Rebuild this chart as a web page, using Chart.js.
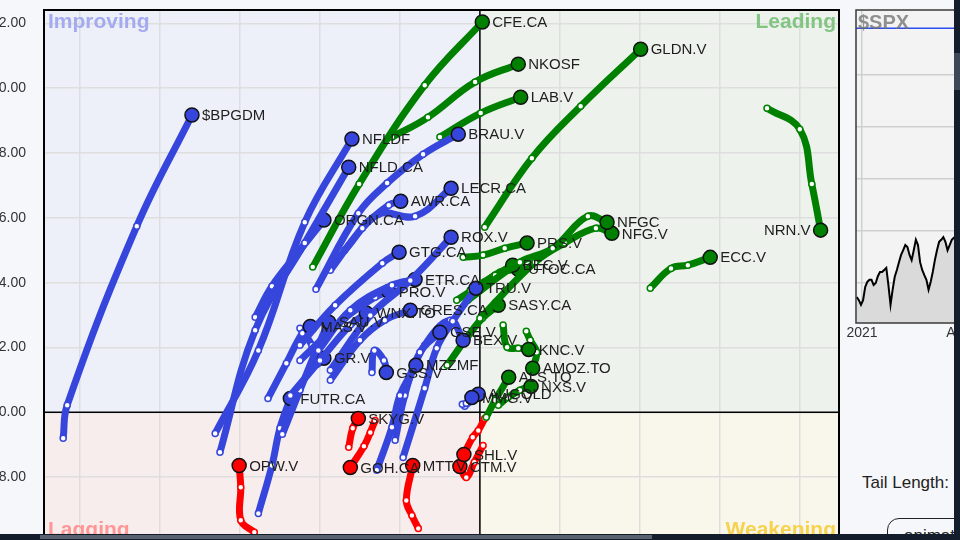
<!DOCTYPE html>
<html>
<head>
<meta charset="utf-8">
<script src="https://cdn.jsdelivr.net/npm/chart.js@4.4.0/dist/chart.umd.min.js"></script>
<style>
  html, body { margin: 0; padding: 0; width: 960px; height: 540px; overflow: hidden; background: #f6f7fa; font-family: "Liberation Sans", Arial, sans-serif; }
  #rrgBox { position: absolute; left: -40px; top: 0; }
  #spxBox { position: absolute; left: 836px; top: 0; }
  #tailLabel { position: absolute; left: 862px; top: 473px; font-size: 17px; color: #222; white-space: nowrap; }
  #animBtn { position: absolute; left: 887px; top: 518px; width: 130px; height: 34px; border: 1.5px solid #222; border-radius: 12px; font-size: 17px; line-height: 34px; padding-left: 16px; color: #222; box-sizing: border-box; }
  #vScroll { position: absolute; left: 954px; top: 0; width: 6px; height: 540px; background: #141d2b; }
  #vThumb { position: absolute; left: 0; top: 53px; width: 6px; height: 37px; background: #3d4757; }
  #hScroll { position: absolute; left: 0; top: 534px; width: 954px; height: 6px; background: #141d2b; }
  #hThumb { position: absolute; left: 40px; top: 1px; width: 612px; height: 4px; background: #58626e; }
</style>
</head>
<body>
<div id="rrgBox"><canvas id="rrg" width="881" height="560"></canvas></div>
<div id="spxBox"><canvas id="spx" width="290" height="345"></canvas></div>
<div id="tailLabel">Tail Length:</div>
<div id="animBtn">animate</div>
<div id="hScroll"><div id="hThumb"></div></div>
<div id="vScroll"><div id="vThumb"></div></div>

<script>
// RRG tails, oldest point first, head (current) point last
const tickers = [
    '$BPGDM', 'NFLDF', 'NFLD.CA', 'ORGN.CA', 'BRAU.V', 'AWR.CA', 'LECR.CA', 'ROX.V', 'GTG.CA', 'ETR.CA',
    'PRO.V', 'GRES.CA', 'WNX.TO', 'MAS.V', 'SAU.V', 'GR.V', 'GSS.V', 'MZZMF', 'FUTR.CA', 'GSE.V',
    'TRU.V', 'BEX.V', 'MMG.V', 'AUGOLD',
    'CFE.CA', 'NKOSF', 'LAB.V', 'GLDN.V', 'NRN.V', 'NFGC', 'NFG.V', 'PRS.V', 'BEC.V', 'UTOC.CA',
    'ECC.V', 'SASY.CA', 'KNC.V', 'AMOZ.TO', 'ALS.TO', 'NXS.V',
    'OPW.V', 'SKYG.V', 'GOH.CA', 'MTT.V', 'SHL.V', 'CTM.V'
];

const tailX = [
    [94.79, 94.84, 95.71, 96.40],
    [96.69, 97.23, 97.81, 98.40],
    [96.75, 97.19, 97.81, 98.36],
    [97.19, 97.40, 97.75, 98.05],
    [97.95, 98.48, 98.84, 99.29, 99.73],
    [98.13, 98.53, 98.86, 99.01],
    [98.31, 98.73, 99.19, 99.64],
    [98.13, 98.63, 99.13, 99.64],
    [97.75, 98.19, 98.78, 98.99],
    [97.98, 98.38, 98.90, 99.19],
    [97.75, 98.31, 98.69, 98.86],
    [98.13, 98.50, 98.81, 99.13],
    [97.63, 98.00, 98.38, 98.58],
    [97.35, 97.58, 97.78, 97.88],
    [97.53, 97.75, 97.98, 98.11],
    [97.75, 97.90, 97.95, 98.05],
    [98.65, 98.68, 98.80, 98.83],
    [98.71, 98.90, 99.00, 99.20],
    [97.23, 97.40, 97.50, 97.63],
    [98.94, 99.06, 99.25, 99.50],
    [99.04, 99.31, 99.46, 99.66, 99.95],
    [99.06, 99.31, 99.63, 99.79],
    [99.78, 99.83, 99.90],
    [99.81, 99.88, 99.98],
    [97.91, 98.49, 99.31, 100.03],
    [98.90, 99.35, 99.94, 100.48],
    [99.50, 100.01, 100.51],
    [100.06, 100.65, 101.26, 102.01],
    [103.59, 104.00, 104.15, 104.26],
    [99.85, 100.50, 100.91, 101.35, 101.59],
    [100.00, 100.69, 101.06, 101.45, 101.65],
    [99.79, 100.04, 100.31, 100.59],
    [99.88, 100.19, 100.41],
    [99.71, 100.06, 100.25, 100.48],
    [102.13, 102.39, 102.60, 102.88],
    [99.59, 99.84, 100.03, 100.23],
    [100.29, 100.34, 100.48, 100.61],
    [100.58, 100.63, 100.71, 100.66],
    [100.08, 100.19, 100.36],
    [100.23, 100.35, 100.50, 100.64],
    [97.18, 97.01, 97.01, 96.99],
    [98.36, 98.41, 98.48],
    [98.69, 98.63, 98.55, 98.38],
    [99.23, 99.15, 99.08, 99.16],
    [100.06, 99.98, 99.91, 99.80],
    [100.04, 99.93, 99.83, 99.75]
];

const tailY = [
    [99.20, 100.22, 105.74, 109.17],
    [99.35, 101.91, 105.86, 108.43],
    [98.77, 102.53, 105.22, 107.56],
    [102.93, 103.89, 105.00, 105.93],
    [103.80, 106.14, 107.07, 107.96, 108.58],
    [104.38, 105.68, 106.39, 106.51],
    [105.00, 106.11, 106.05, 106.91],
    [101.30, 102.99, 104.07, 105.40],
    [102.07, 103.30, 104.60, 104.94],
    [101.91, 103.15, 103.92, 104.10],
    [101.60, 102.90, 103.55, 103.73],
    [100.99, 102.22, 102.84, 103.15],
    [100.52, 101.60, 102.69, 103.06],
    [100.43, 101.51, 102.44, 102.65],
    [99.32, 100.68, 102.07, 102.78],
    [102.59, 102.07, 101.48, 101.67],
    [101.23, 101.91, 101.60, 101.23],
    [98.21, 99.54, 100.52, 101.45],
    [96.88, 98.36, 99.51, 100.43],
    [99.14, 100.52, 101.85, 102.47],
    [98.61, 100.74, 101.98, 102.81, 103.83],
    [100.68, 102.07, 102.84, 102.22],
    [100.25, 100.28, 100.46],
    [100.19, 100.34, 100.56],
    [104.48, 107.04, 110.09, 112.04],
    [108.49, 109.10, 110.19, 110.74],
    [108.49, 109.23, 109.72],
    [105.71, 107.84, 109.44, 111.20],
    [109.38, 108.73, 107.04, 105.62],
    [103.46, 104.63, 105.06, 106.05, 105.86],
    [102.90, 104.63, 105.22, 105.68, 105.52],
    [104.78, 104.85, 105.06, 105.22],
    [103.77, 104.23, 104.54],
    [103.46, 104.01, 104.32, 104.41],
    [103.83, 104.44, 104.54, 104.78],
    [101.45, 102.31, 102.90, 103.30],
    [102.69, 102.01, 101.98, 101.94],
    [102.50, 102.22, 101.85, 101.36],
    [99.85, 100.37, 101.08],
    [100.22, 100.46, 100.68, 100.80],
    [96.30, 96.67, 97.69, 98.36],
    [98.92, 99.51, 99.81],
    [99.75, 99.38, 98.95, 98.30],
    [96.42, 96.82, 97.28, 98.36],
    [99.81, 99.44, 99.23, 98.70],
    [98.98, 98.46, 97.99, 98.33]
];

const leftLabelTickers = ['NRN.V'];
const yTicks = [98, 100, 102, 104, 106, 108, 110, 112];
const xTicks = [95, 96, 97, 98, 99, 100, 101, 102, 103, 104];

// $SPX mini chart
const spxDays = [-5, -3, -1, 1, 3, 5, 7, 9, 11, 13, 15, 17, 19, 21, 23, 25, 27, 29, 31, 33, 35, 37, 39, 41, 43,
    45, 47, 49, 51, 53, 55, 57, 59, 61, 63, 65, 67, 69, 71, 73, 75, 77, 79, 81, 83, 85, 87, 89, 91, 93, 95];
const spxClose = [3673, 3667, 3658, 3667, 3692, 3702, 3706, 3706, 3696, 3700, 3713, 3721, 3721, 3725, 3729,
    3696, 3658, 3687, 3712, 3725, 3740, 3754, 3763, 3773, 3769, 3754, 3744, 3763, 3783, 3773, 3740, 3725,
    3715, 3706, 3687, 3702, 3721, 3744, 3763, 3779, 3783, 3788, 3779, 3763, 3773, 3783, 3787, 3788, 3783,
    3787, 3781];
const spxMarkDays = [-6, 250];
const spxMarkLevel = [4190, 4190];
const spxTicks = [0, 90];
const spxTickLabels = ['2021', 'Apr'];
const spxGrid = [3700, 3800, 3900, 4000, 4100];

function quadColor(x, y) {
    if (x >= 100 && y >= 100) return '#008000';
    if (x < 100 && y >= 100) return '#3646dc';
    if (x < 100 && y < 100) return '#ff0000';
    return '#e0b000';
}

const datasets = tickers.map((name, i) => {
    const xs = tailX[i];
    const ys = tailY[i];
    const last = xs.length - 1;
    const col = quadColor(xs[last], ys[last]);
    return {
        label: name,
        data: xs.map((x, j) => ({ x: x, y: ys[j] })),
        showLine: true,
        borderColor: col,
        borderWidth: 7,
        tension: 0.4,
        pointRadius: xs.map((_, j) => j === last ? 7 : 3),
        pointBackgroundColor: xs.map((_, j) => j === last ? col : '#fff'),
        pointBorderColor: xs.map((_, j) => j === last ? '#111' : col),
        pointBorderWidth: 1.5
    };
});

const quadrantPlugin = {
    id: 'quadrants',
    beforeDraw(chart) {
        const { ctx, chartArea: a, scales } = chart;
        const cx = scales.x.getPixelForValue(100);
        const cy = scales.y.getPixelForValue(100);
        ctx.save();
        ctx.fillStyle = '#eef0f9';
        ctx.fillRect(a.left, a.top, cx - a.left, cy - a.top);
        ctx.fillStyle = '#edf3ec';
        ctx.fillRect(cx, a.top, a.right - cx, cy - a.top);
        ctx.fillStyle = '#f8eded';
        ctx.fillRect(a.left, cy, cx - a.left, a.bottom - cy);
        ctx.fillStyle = '#f9f7ec';
        ctx.fillRect(cx, cy, a.right - cx, a.bottom - cy);
        ctx.restore();
    },
    beforeDatasetsDraw(chart) {
        const { ctx, chartArea: a, scales } = chart;
        const cx = scales.x.getPixelForValue(100);
        const cy = scales.y.getPixelForValue(100);
        ctx.save();
        ctx.strokeStyle = '#000';
        ctx.lineWidth = 1.5;
        ctx.beginPath();
        ctx.moveTo(cx, a.top); ctx.lineTo(cx, a.bottom);
        ctx.moveTo(a.left, cy); ctx.lineTo(a.right, cy);
        ctx.stroke();
        ctx.lineWidth = 2;
        ctx.strokeRect(a.left, a.top, a.right - a.left, a.bottom - a.top);

        ctx.font = 'bold 21px "Liberation Sans", Arial, sans-serif';
        ctx.textBaseline = 'top';
        ctx.textAlign = 'left';
        ctx.fillStyle = '#a3aaf0';
        ctx.fillText('Improving', a.left + 4, a.top + 2);
        ctx.textAlign = 'right';
        ctx.fillStyle = '#82c482';
        ctx.fillText('Leading', a.right - 3, a.top + 2);
        ctx.textBaseline = 'bottom';
        ctx.textAlign = 'left';
        ctx.fillStyle = '#ff9696';
        ctx.fillText('Lagging', a.left + 4, a.bottom - 1);
        ctx.textAlign = 'right';
        ctx.fillStyle = '#f7d24c';
        ctx.fillText('Weakening', a.right - 3, a.bottom - 1);
        ctx.restore();
    }
};

const labelPlugin = {
    id: 'tickerLabels',
    afterDatasetsDraw(chart) {
        const ctx = chart.ctx;
        ctx.save();
        ctx.font = '15px "Liberation Sans", Arial, sans-serif';
        ctx.fillStyle = '#1e1e1e';
        ctx.textBaseline = 'middle';
        chart.data.datasets.forEach((ds, i) => {
            const meta = chart.getDatasetMeta(i);
            const head = meta.data[meta.data.length - 1];
            if (leftLabelTickers.includes(ds.label)) {
                ctx.textAlign = 'right';
                ctx.fillText(ds.label, head.x - 10, head.y + 1);
            } else {
                ctx.textAlign = 'left';
                ctx.fillText(ds.label, head.x + 10, head.y + 1);
            }
        });
        ctx.restore();
    }
};

new Chart(document.getElementById('rrg').getContext('2d'), {
    type: 'scatter',
    data: { datasets: datasets },
    options: {
        responsive: false,
        animation: false,
        layout: { autoPadding: false, padding: { top: 10, right: 2, bottom: 18, left: 0 } },
        plugins: { legend: { display: false }, tooltip: { enabled: false } },
        scales: {
            x: {
                type: 'linear',
                min: 94.55,
                max: 104.49,
                afterBuildTicks: scale => { scale.ticks = xTicks.map(v => ({ value: v })); },
                afterFit: scale => { scale.height = 0; },
                ticks: { display: false },
                grid: { color: '#dedede', lineWidth: 1.5, drawTicks: false },
                border: { display: false }
            },
            y: {
                type: 'linear',
                min: 96,
                max: 112.41,
                afterBuildTicks: scale => { scale.ticks = yTicks.map(v => ({ value: v })); },
                afterFit: scale => {
                    scale.width = 84;
                    scale.paddingTop = 0;
                    scale.paddingBottom = 0;
                },
                ticks: {
                    padding: 18,
                    color: '#333',
                    font: { size: 14, family: '"Liberation Sans", Arial, sans-serif' },
                    callback: v => v.toFixed(2)
                },
                grid: { color: '#dedede', lineWidth: 1.5, drawTicks: false },
                border: { display: false }
            }
        }
    },
    plugins: [quadrantPlugin, labelPlugin]
});

const spxFramePlugin = {
    id: 'spxFrame',
    beforeDraw(chart) {
        const { ctx, chartArea: a } = chart;
        ctx.save();
        ctx.fillStyle = '#f3f3f3';
        ctx.fillRect(a.left, a.top, a.right - a.left, a.bottom - a.top);
        ctx.restore();
    },
    afterDraw(chart) {
        const { ctx, chartArea: a } = chart;
        ctx.save();
        ctx.strokeStyle = '#3a3a3a';
        ctx.lineWidth = 1.5;
        ctx.strokeRect(a.left, a.top, a.right - a.left, a.bottom - a.top);
        ctx.font = 'bold 20px "Liberation Sans", Arial, sans-serif';
        ctx.fillStyle = 'rgba(110, 110, 110, 0.75)';
        ctx.textBaseline = 'top';
        ctx.fillText('$SPX', a.left + 2, a.top + 3);
        ctx.restore();
    }
};

new Chart(document.getElementById('spx').getContext('2d'), {
    type: 'scatter',
    data: {
        datasets: [
            {
                data: spxMarkDays.map((d, i) => ({ x: d, y: spxMarkLevel[i] })),
                showLine: true,
                borderColor: '#2b4cf0',
                borderWidth: 1.5,
                pointRadius: 0
            },
            {
                data: spxDays.map((d, i) => ({ x: d, y: spxClose[i] })),
                showLine: true,
                borderColor: '#000',
                borderWidth: 2,
                backgroundColor: '#dadada',
                fill: 'start',
                pointRadius: 0
            }
        ]
    },
    options: {
        responsive: false,
        animation: false,
        layout: { autoPadding: false, padding: { top: 10, right: 0, bottom: 0, left: 20 } },
        plugins: { legend: { display: false }, tooltip: { enabled: false } },
        scales: {
            x: {
                type: 'linear',
                min: -5.7,
                max: 250,
                afterBuildTicks: scale => { scale.ticks = spxTicks.map(v => ({ value: v })); },
                afterFit: scale => { scale.height = 22; },
                ticks: {
                    padding: 2,
                    color: '#333',
                    maxRotation: 0,
                    font: { size: 14, family: '"Liberation Sans", Arial, sans-serif' },
                    callback: v => spxTickLabels[spxTicks.indexOf(v)]
                },
                grid: { color: '#cfcfcf', lineWidth: 1.5, drawTicks: false },
                border: { display: false }
            },
            y: {
                type: 'linear',
                position: 'right',
                min: 3623,
                max: 4225,
                afterBuildTicks: scale => { scale.ticks = spxGrid.map(v => ({ value: v })); },
                afterFit: scale => { scale.width = 0; },
                ticks: { display: false },
                grid: { color: '#cfcfcf', lineWidth: 1.5, drawTicks: false },
                border: { display: false }
            }
        }
    },
    plugins: [spxFramePlugin]
});
</script>
</body>
</html>
